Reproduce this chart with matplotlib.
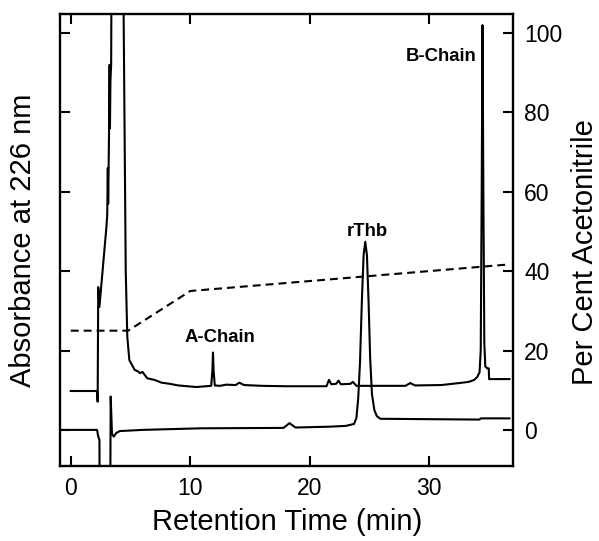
import matplotlib
matplotlib.use("Agg")
import matplotlib.pyplot as plt

plt.rcParams['font.family'] = ['Liberation Sans', 'DejaVu Sans']

# Upper trace (chromatogram, offset)
top_x = [0.0, 2.2, 2.25, 2.3, 2.4, 2.98, 3.05, 3.1, 3.13, 3.2, 3.25, 3.28, 3.32, 3.38, 3.45,
         4.3, 4.6, 4.73, 4.9, 5.35, 5.6, 5.8, 6.0, 6.4, 7.0, 7.6, 8.3, 9.0, 10.5, 11.75, 11.85, 11.9,
         11.95, 12.05, 12.5, 13.0, 13.8, 14.1, 14.5, 16.0, 18.0, 21.4, 21.6, 21.8, 22.2, 22.4,
         22.6, 23.4, 23.6, 23.9, 28.0, 28.4, 28.8, 31.0, 32.5, 33.3, 33.75, 34.0, 34.2, 34.3,
         34.38, 34.45, 34.52, 34.6, 34.68, 34.85, 34.97, 35.0, 36.7]
top_y = [9.8, 9.8, 7.1, 36.0, 31.0, 51.0, 54.0, 66.0, 57.0, 74.0, 92.0, 76.0, 88.0, 92.0, 150.0,
         150.0, 40.0, 23.5, 17.6, 15.1, 14.8, 14.3, 14.6, 13.0, 12.6, 11.9, 11.6, 11.2, 10.8, 11.1,
         15.0, 19.5, 15.0, 11.2, 11.1, 11.4, 11.3, 11.9, 11.3, 11.1, 11.0, 11.0, 12.6, 11.5, 11.6,
         12.4, 11.5, 11.6, 12.1, 11.1, 11.1, 11.8, 11.2, 11.3, 11.8, 12.1, 12.6, 13.3, 14.5, 20.0,
         60.0, 102.0, 60.0, 22.0, 16.0, 15.5, 15.5, 12.8, 12.8]

# Lower trace (chromatogram)
bot_x = [-0.9, 2.2, 2.3, 2.4, 2.42, 2.55, 3.3, 3.34, 3.45, 3.6, 3.8, 4.1, 6.0, 10.9, 17.8,
         18.3, 18.8, 21.6, 23.0, 23.7, 23.9, 24.05, 24.2, 24.35, 24.5, 24.64, 24.78, 24.92,
         25.05, 25.2, 25.4, 25.6, 25.9, 30.0, 34.2, 34.3, 36.7]
bot_y = [0.0, 0.0, -1.7, -2.5, -20.0, -20.0, -20.0, 8.4, -1.0, -1.7, -0.8, -0.3, 0.0, 0.4, 0.5,
         1.7, 0.6, 0.8, 1.0, 1.5, 3.0, 8.0, 17.0, 32.0, 44.0, 47.4, 44.0, 32.0,
         18.0, 9.0, 5.0, 3.5, 2.8, 2.7, 2.6, 2.9, 2.9]

# Acetonitrile gradient (%)
grad_x = [0.0, 4.8, 10.0, 36.7]
grad_y = [25.0, 25.0, 35.0, 41.7]

peak_labels = ["A-Chain", "rThb", "B-Chain"]
peak_lx = [12.5, 24.8, 31.0]
peak_ly = [23.2, 50.0, 94.0]

xticks = [0, 10, 20, 30]
yticks = [0, 20, 40, 60, 80, 100]

fig = plt.figure(figsize=(5.99, 5.41), dpi=100)
ax = fig.add_axes([60/599, 1-466/541, 453/599, 452/541])

ax.plot(top_x, top_y, color='black', lw=1.5)
ax.plot(bot_x, bot_y, color='black', lw=1.5)
ax.plot(grad_x, grad_y, color='black', lw=1.5, dashes=(3.8, 2.4))

for t, x, y in zip(peak_labels, peak_lx, peak_ly):
    ax.text(x, y, t, ha='center', va='center', fontsize=13.3, fontweight='bold')

ax.set_xlim(-0.9, 37.0)
ax.set_ylim(-9.1, 104.8)
ax.set_xticks(xticks)
ax.set_yticks(yticks)
ax.tick_params(direction='in', length=7, width=1.5, labelsize=16.5, pad=8,
               top=True, right=True, left=True, bottom=True,
               labelleft=False, labelright=True)
for s in ax.spines.values():
    s.set_linewidth(1.7)

fig.text(287/599, 1-522/541, "Retention Time (min)", ha='center', va='center', fontsize=21)
fig.text(23/599, 1-240/541, "Absorbance at 226 nm", ha='center', va='center', fontsize=21, rotation=90)
fig.text(585/599, 1-252/541, "Per Cent Acetonitrile", ha='center', va='center', fontsize=21, rotation=90)

fig.savefig("out.png", dpi=100)
